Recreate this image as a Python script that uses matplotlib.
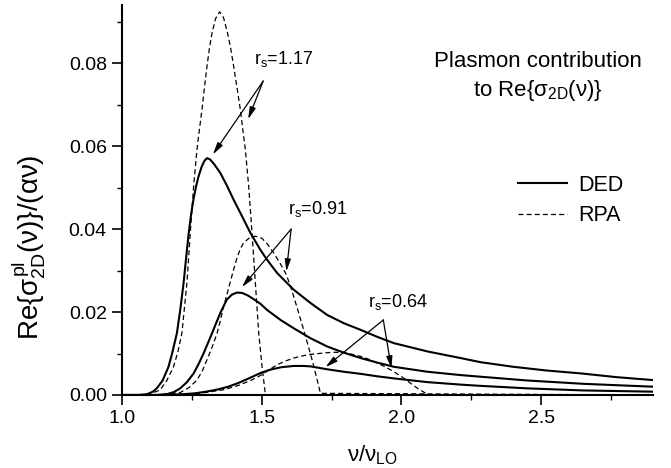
# Plasmon contribution to Re{sigma_2D(nu)}: DED vs RPA for three r_s values

import numpy as np
import matplotlib
matplotlib.use("Agg")
import matplotlib.pyplot as plt

plt.rcParams['font.family'] = ['Liberation Sans', 'DejaVu Sans']
plt.rcParams['mathtext.fontset'] = 'custom'
plt.rcParams['mathtext.rm'] = 'Liberation Sans'
plt.rcParams['mathtext.it'] = 'Liberation Sans'
plt.rcParams['mathtext.bf'] = 'Liberation Sans:bold'

# DED curves (solid)
x_ded_117 = [1.00, 1.06, 1.089, 1.11, 1.124, 1.145, 1.166, 1.18, 1.196, 1.208, 1.220, 1.229,
             1.238, 1.247, 1.256, 1.265, 1.274, 1.285, 1.295, 1.304, 1.315, 1.33, 1.351, 1.375,
             1.399, 1.43, 1.459, 1.495, 1.519, 1.555, 1.614, 1.674, 1.734, 1.794, 1.854, 1.914,
             1.973, 2.093, 2.212, 2.284, 2.40, 2.52, 2.643, 2.77, 2.90]
y_ded_117 = [0.0, 0.0, 0.0002, 0.0008, 0.0016, 0.0035, 0.0068, 0.0103, 0.0149, 0.0205, 0.0270, 0.0330,
             0.0388, 0.0436, 0.0474, 0.0504, 0.0528, 0.0551, 0.0565, 0.0571, 0.0568, 0.0556, 0.0536, 0.0505,
             0.0471, 0.0430, 0.0391, 0.0350, 0.0326, 0.0294, 0.0254, 0.0222, 0.0193, 0.0173, 0.0157, 0.0140,
             0.0125, 0.0105, 0.0089, 0.0079, 0.0068, 0.0059, 0.0052, 0.0043, 0.0036]

x_ded_091 = [1.00, 1.12, 1.160, 1.185, 1.208, 1.232, 1.256, 1.274, 1.292, 1.307, 1.322, 1.337,
             1.351, 1.363, 1.375, 1.393, 1.411, 1.43, 1.450, 1.471, 1.495, 1.519, 1.567, 1.614,
             1.674, 1.734, 1.794, 1.854, 1.914, 1.973, 2.093, 2.212, 2.284, 2.45, 2.65, 2.90]
y_ded_091 = [0.0, 0.0, 0.0002, 0.0007, 0.0016, 0.0031, 0.0052, 0.0075, 0.0101, 0.0125, 0.0149, 0.0174,
             0.0197, 0.0214, 0.0230, 0.0242, 0.0247, 0.0246, 0.0240, 0.0231, 0.0220, 0.0205, 0.0181, 0.0161,
             0.0137, 0.0117, 0.0102, 0.0089, 0.0078, 0.0068, 0.0056, 0.0048, 0.0044, 0.0035, 0.0027, 0.0020]

x_ded_064 = [1.00, 1.15, 1.22, 1.26, 1.30, 1.34, 1.38, 1.42, 1.46, 1.495, 1.53, 1.57,
             1.614, 1.65, 1.674, 1.70, 1.734, 1.794, 1.854, 1.914, 1.973, 2.093, 2.212, 2.284,
             2.45, 2.65, 2.90]
y_ded_064 = [0.0, 0.0, 0.0002, 0.0004, 0.0008, 0.0013, 0.0020, 0.0030, 0.0042, 0.0053, 0.0061, 0.0067,
             0.0070, 0.0070, 0.0069, 0.0066, 0.0062, 0.0056, 0.0051, 0.0045, 0.0040, 0.0031, 0.0025, 0.0022,
             0.0016, 0.0011, 0.0008]

# RPA curves (dashed)
x_rpa_117 = [1.00, 1.09, 1.136, 1.16, 1.184, 1.20, 1.214, 1.232, 1.244, 1.256, 1.268, 1.277,
             1.286, 1.295, 1.304, 1.313, 1.322, 1.335, 1.349, 1.363, 1.377, 1.388, 1.399, 1.411,
             1.423, 1.432, 1.441, 1.453, 1.465, 1.477, 1.489, 1.501, 1.513, 2.90]
y_rpa_117 = [0.0, 0.0, 0.0012, 0.0035, 0.0068, 0.0105, 0.0149, 0.0270, 0.0391, 0.0504, 0.0592, 0.0642,
             0.0689, 0.0743, 0.0794, 0.0838, 0.0874, 0.0908, 0.0924, 0.0910, 0.0874, 0.0838, 0.0794, 0.0742,
             0.0689, 0.0640, 0.0592, 0.0504, 0.0391, 0.0270, 0.0149, 0.0068, 0.0, 0.0]

x_rpa_091 = [1.00, 1.12, 1.208, 1.24, 1.268, 1.287, 1.304, 1.322, 1.340, 1.352, 1.363, 1.375,
             1.387, 1.399, 1.411, 1.423, 1.435, 1.456, 1.477, 1.50, 1.52, 1.543, 1.565, 1.585,
             1.60, 1.614, 1.632, 1.650, 1.665, 1.680, 1.695, 1.710, 2.90]
y_rpa_091 = [0.0, 0.0, 0.0006, 0.0018, 0.0036, 0.0058, 0.0085, 0.0115, 0.0149, 0.0180, 0.0212, 0.0242,
             0.0272, 0.0302, 0.0330, 0.0352, 0.0367, 0.0379, 0.0383, 0.0378, 0.0364, 0.0342, 0.0318, 0.0294,
             0.0268, 0.0238, 0.0198, 0.0157, 0.0121, 0.0085, 0.0045, 0.0004, 0.0]

x_rpa_064 = [1.00, 1.15, 1.25, 1.30, 1.366, 1.42, 1.46, 1.495, 1.525, 1.555, 1.585, 1.614,
             1.644, 1.674, 1.704, 1.734, 1.764, 1.794, 1.824, 1.854, 1.884, 1.914, 1.944, 1.973,
             2.003, 2.033, 2.06, 2.087, 2.095, 2.90]
y_rpa_064 = [0.0, 0.0, 0.0003, 0.0006, 0.0013, 0.0024, 0.0035, 0.0047, 0.0060, 0.0073, 0.0082, 0.0089,
             0.0094, 0.0098, 0.0100, 0.0102, 0.0103, 0.0102, 0.0098, 0.0093, 0.0086, 0.0077, 0.0067, 0.0056,
             0.0043, 0.0028, 0.0015, 0.0004, 0.0, 0.0]

# labels with arrows: (text, text pos, arrow origin, arrow tips)
labels = [r'r$_{\rm s}$=1.17', r'r$_{\rm s}$=0.91', r'r$_{\rm s}$=0.64']
label_pos = [(1.471, 0.0798), (1.593, 0.0437), (1.881, 0.0213)]
arrow_from = [(1.505, 0.0757), (1.605, 0.0400), (1.935, 0.0181)]
arrow_to = [[(1.325, 0.0580), (1.451, 0.0665)],
            [(1.429, 0.0260), (1.588, 0.0298)],
            [(1.728, 0.0067), (1.964, 0.0064)]]

fig = plt.figure(figsize=(6.71, 4.68), dpi=100)
ax = fig.add_axes([0.182, 0.156, 0.791, 0.833])

dash = (0, (4, 2.5))
ax.plot(x_ded_117, y_ded_117, color='k', lw=1.5, label='DED')
ax.plot(x_ded_091, y_ded_091, color='k', lw=1.5)
ax.plot(x_ded_064, y_ded_064, color='k', lw=1.5)
ax.plot(x_rpa_117, y_rpa_117, color='k', lw=0.9, linestyle=dash, label='RPA')
ax.plot(x_rpa_091, y_rpa_091, color='k', lw=0.9, linestyle=dash)
ax.plot(x_rpa_064, y_rpa_064, color='k', lw=0.9, linestyle=dash)

for txt, pos, src, tips in zip(labels, label_pos, arrow_from, arrow_to):
    ax.text(pos[0], pos[1], txt, fontsize=13, ha='left', va='baseline')
    for tip in tips:
        ax.annotate('', xy=tip, xytext=src,
                    arrowprops=dict(arrowstyle='-|>,head_length=0.72,head_width=0.18',
                                    color='k', lw=0.9, shrinkA=0, shrinkB=0,
                                    mutation_scale=10))

ax.text(0.784, 0.815, 'Plasmon contribution\nto Re$\\{\\sigma_{\\rm 2D}(\\nu)\\}$',
        transform=ax.transAxes, ha='center', va='center', fontsize=16,
        multialignment='center', linespacing=1.35)

ax.legend(loc='upper left', bbox_to_anchor=(0.745, 0.565), frameon=False, fontsize=15.5,
          handlelength=2.3, handletextpad=0.5, labelspacing=0.45, borderpad=0, borderaxespad=0)

ax.set_xlim(1.0, 2.9)
ax.set_ylim(0.0, 0.094)
ax.set_xticks([1.0, 1.5, 2.0, 2.5])
ax.set_xticks([1.25, 1.75, 2.25, 2.75], minor=True)
ax.set_yticks([0.0, 0.02, 0.04, 0.06, 0.08])
ax.set_yticks([0.01, 0.03, 0.05, 0.07, 0.09], minor=True)
ax.set_xticklabels(['1.0', '1.5', '2.0', '2.5'])
ax.set_yticklabels(['0.00', '0.02', '0.04', '0.06', '0.08'])
ax.tick_params(which='major', direction='out', length=7, width=1.2, labelsize=14, pad=4)
ax.tick_params(which='minor', direction='out', length=3.5, width=1.0)

ax.spines['top'].set_visible(False)
ax.spines['right'].set_visible(False)
ax.spines['left'].set_linewidth(1.5)
ax.spines['bottom'].set_linewidth(1.5)

ax.set_xlabel(r'$\nu/\nu_{\rm LO}$', fontsize=16)
ax.set_ylabel(r'Re$\{\sigma^{\rm pl}_{\rm 2D}(\nu)\}/(\alpha\nu)$', fontsize=20)
ax.xaxis.set_label_coords(0.472, -0.125)
ax.yaxis.set_label_coords(-0.14, 0.38)

fig.savefig('out.png', dpi=100)
